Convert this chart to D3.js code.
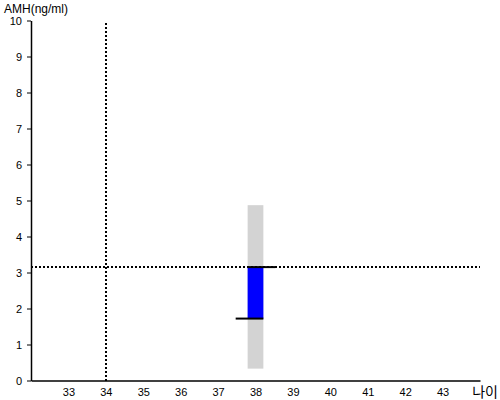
<!DOCTYPE html>
<html>
<head>
<meta charset="utf-8">
<script src="https://cdn.jsdelivr.net/npm/d3@7"></script>
<style>
body { margin: 0; background: #fff; }
text { font-family: Arial, "Liberation Sans", sans-serif; }
</style>
</head>
<body>
<div id="chart"></div>
<script>
// data
var xTicks = [33, 34, 35, 36, 37, 38, 39, 40, 41, 42, 43];
var yTicks = [0, 1, 2, 3, 4, 5, 6, 7, 8, 9, 10];
var refAge = 34;
var refAmh = 3.15;
var age = [38];
var rangeLow = [0.33];
var rangeHigh = [4.87];
var amhFrom = [1.72];
var amhTo = [3.15];

var width = 500, height = 400;

var x = d3.scaleLinear().domain([32, 44]).range([31, 480]);
var y = d3.scaleLinear().domain([0, 10]).range([380.5, 20.5]);

var svg = d3.select("#chart").append("svg")
  .attr("width", width)
  .attr("height", height);

var barHalf = 0.21, capLong = 0.53;

// grey range bar
svg.selectAll(".range")
  .data(age)
  .enter().append("rect")
  .attr("x", function(d) { return x(d - barHalf); })
  .attr("width", function(d) { return x(d + barHalf) - x(d - barHalf); })
  .attr("y", function(d, i) { return y(rangeHigh[i]); })
  .attr("height", function(d, i) { return y(rangeLow[i]) - y(rangeHigh[i]); })
  .style("fill", "#d3d3d3");

// blue bar
svg.selectAll(".amh")
  .data(age)
  .enter().append("rect")
  .attr("x", function(d) { return x(d - barHalf); })
  .attr("width", function(d) { return x(d + barHalf) - x(d - barHalf); })
  .attr("y", function(d, i) { return y(amhTo[i]); })
  .attr("height", function(d, i) { return y(amhFrom[i]) - y(amhTo[i]); })
  .style("fill", "#0000ff");

// reference dotted lines (snapped to whole pixels so the dots stay crisp)
var hy = Math.round(y(refAmh));
svg.append("line")
  .attr("x1", x(32)).attr("x2", x(44))
  .attr("y1", hy).attr("y2", hy)
  .style("stroke", "#000").style("stroke-width", 2)
  .style("stroke-dasharray", "2,2")
  .style("shape-rendering", "crispEdges");

var vx = Math.round(x(refAge));
svg.append("line")
  .attr("x1", vx).attr("x2", vx)
  .attr("y1", y(0)).attr("y2", y(10))
  .style("stroke", "#000").style("stroke-width", 2)
  .style("stroke-dasharray", "2,2")
  .style("shape-rendering", "crispEdges");

// caps
svg.selectAll(".capTop")
  .data(age)
  .enter().append("line")
  .attr("x1", function(d) { return x(d - barHalf); })
  .attr("x2", function(d) { return x(d + capLong); })
  .attr("y1", function(d, i) { return y(amhTo[i]); })
  .attr("y2", function(d, i) { return y(amhTo[i]); })
  .style("stroke", "#000").style("stroke-width", 2);

svg.selectAll(".capBottom")
  .data(age)
  .enter().append("line")
  .attr("x1", function(d) { return x(d - capLong); })
  .attr("x2", function(d) { return x(d + barHalf); })
  .attr("y1", function(d, i) { return y(amhFrom[i]); })
  .attr("y2", function(d, i) { return y(amhFrom[i]); })
  .style("stroke", "#000").style("stroke-width", 2);

//axis
var xAxis = svg.append("g")
  .attr("transform", "translate(0," + y(0) + ")")
  .call(d3.axisBottom(x).tickValues(xTicks).tickSize(0).tickPadding(8).tickSizeOuter(0));
xAxis.select(".domain").style("stroke-width", 1.5);

var yAxis = svg.append("g")
  .attr("transform", "translate(" + x(32) + ",0)")
  .call(d3.axisLeft(y).tickValues(yTicks).tickSize(4).tickPadding(5).tickSizeOuter(0));
yAxis.select(".domain").style("stroke-width", 1.5);

svg.selectAll(".tick text")
  .style("font-size", "11px")
  .style("font-family", "Arial, 'Liberation Sans', sans-serif")
  .style("fill", "#000");

//titles
svg.append("text")
  .attr("x", 4)
  .attr("y", 13)
  .text("AMH(ng/ml)")
  .style("font-size", "12px")
  .style("fill", "#000");

svg.append("text")
  .attr("x", 498)
  .attr("y", 397)
  .attr("text-anchor", "end")
  .text("나이")
  .style("font-size", "14px")
  .style("font-family", "'Noto Sans CJK KR', sans-serif")
  .style("fill", "#000");
</script>
</body>
</html>
